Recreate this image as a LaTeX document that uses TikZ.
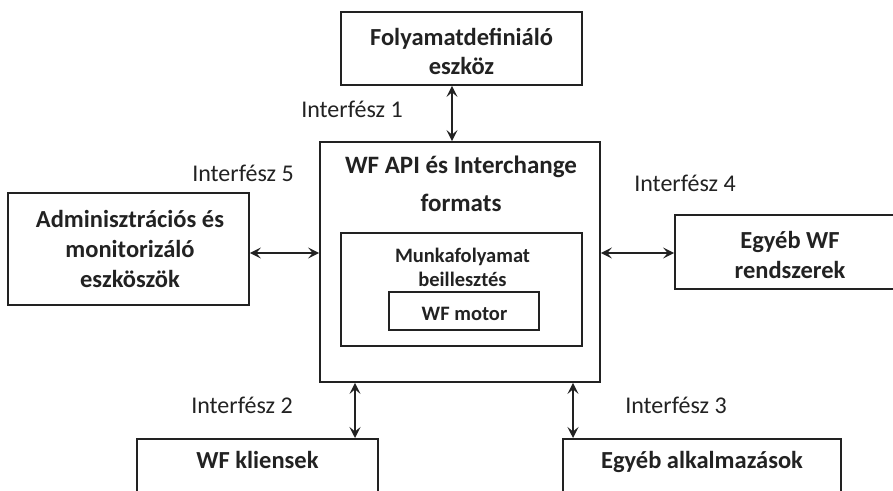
\documentclass[tikz,border=0pt]{standalone}
\usepackage{fontspec}
\setmainfont{Carlito}
\usetikzlibrary{arrows.meta}
\definecolor{ink}{HTML}{222222}
\tikzset{
  box/.style={draw=ink, line width=1.8pt, inner sep=0pt},
  btext/.style={align=center, text=ink, inner sep=0pt, anchor=base},
  big/.style={font=\bfseries\fontsize{24.5}{30}\selectfont},
  ilabel/.style={text=ink, inner sep=0pt, anchor=base, font=\fontsize{24}{29}\selectfont},
  conn/.style={draw=ink, line width=1.6pt, {Stealth[length=11pt,width=11pt,inset=4.5pt]}-{Stealth[length=11pt,width=11pt,inset=4.5pt]}}
}
\begin{document}
\begin{tikzpicture}[x=1pt,y=-1pt]
\useasboundingbox (0,0) rectangle (893,490);
\clip (0,0) rectangle (893,490);
% boxes
\node[box, minimum width=241, minimum height=73] (top) at (461.5,48.5) {};
\node[box, minimum width=280, minimum height=240] (main) at (460,262) {};
\node[box, minimum width=241, minimum height=112] (adm) at (128.5,249) {};
\node[box, minimum width=230, minimum height=74] (egywf) at (790,252) {};
\node[box, minimum width=241, minimum height=113] (mf) at (461.5,289.5) {};
\node[box, minimum width=150, minimum height=38] (motor) at (464,311) {};
\node[box, minimum width=241, minimum height=100, anchor=north] (wfk) at (257.5,438) {};
\node[box, minimum width=278, minimum height=100, anchor=north] (egyalk) at (702,438) {};
% texts (multi-line nodes: base = last line's baseline)
\node[btext, font=\bfseries\fontsize{24.5}{29}\selectfont] (toptext) at (461.5,74) {Folyamatdefiniáló\\eszköz};
\node[btext, font=\bfseries\fontsize{25}{38}\selectfont] (maintext) at (461,211) {WF API és Interchange\\formats};
\node[btext, font=\bfseries\fontsize{24.5}{30}\selectfont] (admtext) at (130,287) {Adminisztrációs és\\monitorizáló\\eszköszök};
\node[btext, font=\bfseries\fontsize{24.5}{30}\selectfont] (egywftext) at (790,278) {Egyéb WF\\rendszerek};
\node[btext, font=\bfseries\fontsize{20.5}{24}\selectfont] (mftext) at (462.5,286) {Munkafolyamat\\beillesztés};
\node[btext, font=\bfseries\fontsize{20.5}{24}\selectfont] (motortext) at (464.5,320) {WF motor};
\node[btext, big] (wfktext) at (257.5,468) {WF kliensek};
\node[btext, big] (egyalktext) at (702,468) {Egyéb alkalmazások};
% connector positions
\coordinate (x1) at (452,0);
\coordinate (x2) at (355,0);
\coordinate (x3) at (573,0);
\coordinate (y5) at (0,253);
\draw[conn] (top.south -| x1) -- (main.north -| x1);
\draw[conn] (adm.east |- y5) -- (main.west |- y5);
\draw[conn] (main.east |- y5) -- (egywf.west |- y5);
\draw[conn] (main.south -| x2) -- (wfk.north -| x2);
\draw[conn] (main.south -| x3) -- (egyalk.north -| x3);
% labels
\node[ilabel] (i1) at (352,117) {Interfész 1};
\node[ilabel] (i5) at (243,181) {Interfész 5};
\node[ilabel] (i4) at (685,191) {Interfész 4};
\node[ilabel] (i2) at (242,413) {Interfész 2};
\node[ilabel] (i3) at (676,413) {Interfész 3};
\end{tikzpicture}
\end{document}
